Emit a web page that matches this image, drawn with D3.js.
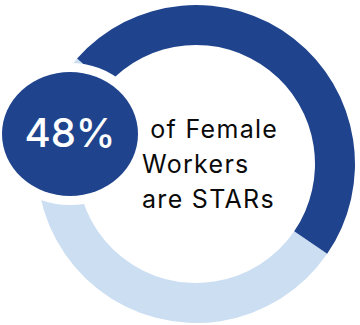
<!DOCTYPE html>
<html>
<head>
<meta charset="utf-8">
<script src="https://cdn.jsdelivr.net/npm/d3@7"></script>
<style>
  html, body { margin: 0; padding: 0; background: #fff; }
  svg { display: block; }
</style>
</head>
<body>
<svg id="chart" width="360" height="325"></svg>
<script>
// Share of female workers who are STARs
const segments = ["STARs", "Others"];
const shares = [48, 52];
const colors = ["#1f448d", "#cbdef2"];
const badgeLabel = "48%";
const captionLines = [" of Female", "Workers", "are STARs"];

const svg = d3.select("#chart");

const cx = 196, cy = 164, outerR = 159, innerR = 119;
const startDeg = -48.4;

const pie = d3.pie()
  .sort(null)
  .startAngle(startDeg * Math.PI / 180)
  .endAngle((startDeg + 360) * Math.PI / 180);

const arc = d3.arc().innerRadius(innerR).outerRadius(outerR);
const color = d3.scaleOrdinal().domain(segments).range(colors);

const ring = svg.append("g").attr("transform", `translate(${cx},${cy})`);
const arcs = pie(shares).map((a, i) => ({ ...a, key: segments[i] }));
// remainder first so the value arc sits on top
ring.selectAll("path")
  .data(arcs.slice().reverse())
  .join("path")
  .attr("d", arc)
  .attr("fill", d => color(d.key));

// value badge with a white halo
const badge = svg.append("g").attr("transform", "translate(70,134)");
badge.append("ellipse")
  .attr("rx", 68).attr("ry", 62)
  .attr("fill", colors[0])
  .attr("stroke", "#fff")
  .attr("stroke-width", 18);
badge.append("ellipse")
  .attr("rx", 68).attr("ry", 62)
  .attr("fill", colors[0]);
badge.append("text")
  .attr("x", 0).attr("y", 13)
  .attr("text-anchor", "middle")
  .attr("fill", "#fff")
  .attr("font-family", "Inter, 'Open Sans', sans-serif")
  .attr("font-weight", 500)
  .attr("font-size", 40)
  .text(badgeLabel);

// caption
const caption = svg.append("text")
  .attr("font-family", "Inter, 'Open Sans', sans-serif")
  .attr("font-size", 25)
  .attr("letter-spacing", 1.3)
  .attr("fill", "#0a0a0a");
const lineX = [142, 142, 142];
const lineY = [138, 173, 208];
caption.selectAll("tspan")
  .data(captionLines)
  .join("tspan")
  .attr("x", (d, i) => lineX[i])
  .attr("y", (d, i) => lineY[i])
  .style("white-space", "pre")
  .text(d => d);
</script>
</body>
</html>
